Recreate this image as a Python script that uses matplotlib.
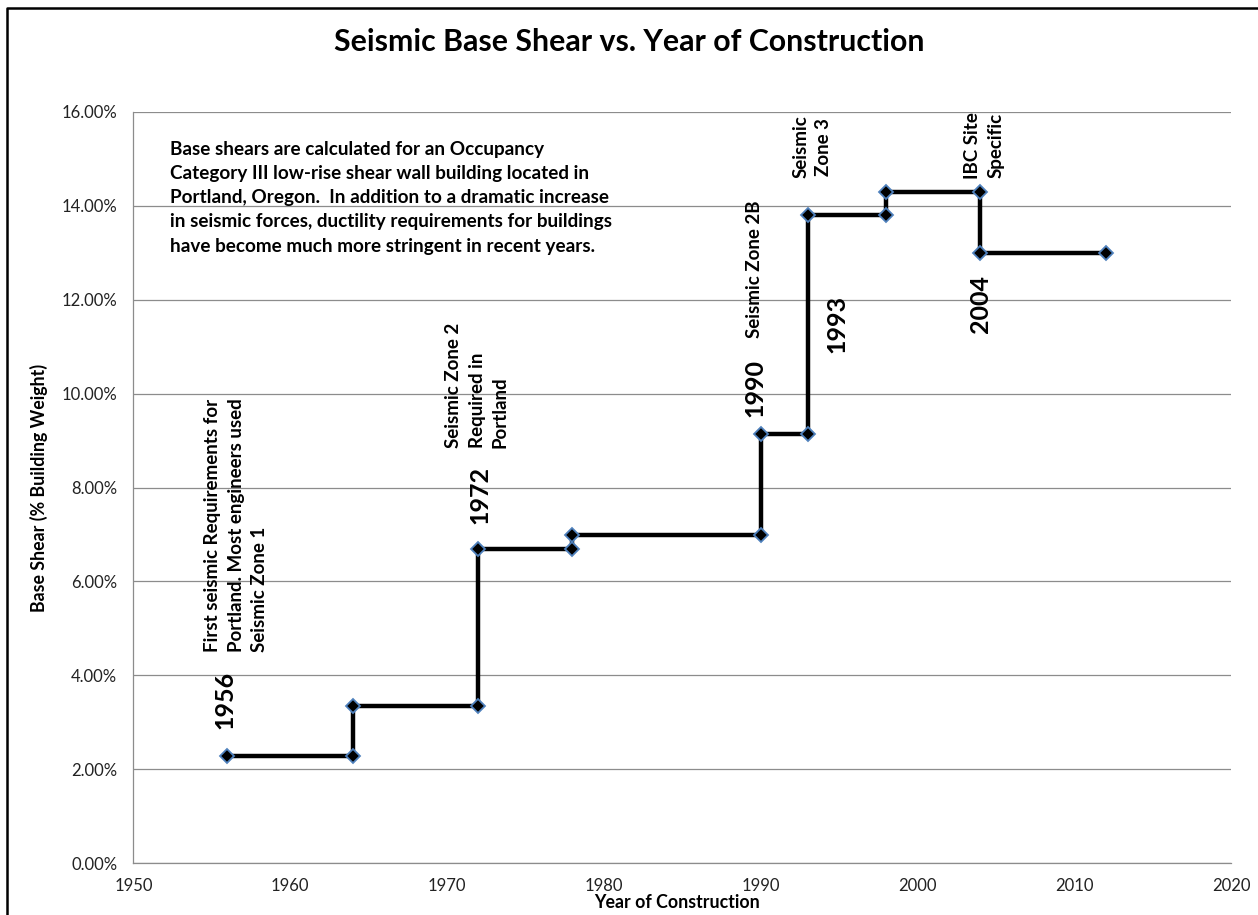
import numpy as np
import matplotlib.pyplot as plt
from matplotlib.lines import Line2D
from matplotlib.ticker import FuncFormatter

plt.rcParams['font.family'] = ['Lato', 'DejaVu Sans']

# step curve of code base shear (% of building weight)
years = [1956, 1964, 1964, 1972, 1972, 1978, 1978, 1990, 1990, 1993, 1993, 1998, 1998, 2004, 2004, 2012]
base_shear = [2.29, 2.29, 3.35, 3.35, 6.69, 6.69, 6.98, 6.98, 9.15, 9.15, 13.80, 13.80, 14.30, 14.30, 13.00, 13.00]

# code-change years and the point each one is labelled at (index into the arrays above)
code_years = ['1956', '1972', '1990', '1993', '2004']
code_idx = [0, 4, 8, 9, 14]
code_offsets = [(-2, 19), (1, 18), (-4, 12), (21, 79), (0, -16)]
code_va = ['bottom', 'bottom', 'bottom', 'center', 'top']

notes = ["First seismic Requirements for\nPortland. Most engineers used\nSeismic Zone 1",
         "Seismic Zone 2\nRequired in\nPortland",
         "Seismic Zone 2B",
         "Seismic\nZone 3",
         "IBC Site\nSpecific"]
note_pos = [(1956.55, 4.50), (1971.92, 8.84), (1989.64, 11.18), (1993.3, 15.26), (2004.25, 15.28)]
note_va = ['bottom', 'bottom', 'bottom', 'center', 'center']
note_align = ['left', 'left', 'left', 'center', 'center']

summary = ("Base shears are calculated for an Occupancy\n"
           "Category III low-rise shear wall building located in\n"
           "Portland, Oregon.  In addition to a dramatic increase\n"
           "in seismic forces, ductility requirements for buildings\n"
           "have become much more stringent in recent years.")

fig = plt.figure(figsize=(12.58, 9.15), dpi=100)
ax = fig.add_axes([0.106, 0.0568, 0.8725, 0.8208])

ax.plot(years, base_shear, color='black', lw=3.2, marker='D', ms=6.8,
        mfc='black', mec='#4F81BD', mew=1.3, zorder=3)

ax.set_xlim(1950, 2020)
ax.set_ylim(0, 16)
ax.set_xticks(np.arange(1950, 2021, 10))
ax.set_yticks(np.arange(0, 16.1, 2))
ax.yaxis.set_major_formatter(FuncFormatter(lambda v, p: f'{v:.2f}%'))
ax.grid(axis='y', color='#8c8c8c', lw=0.9)
ax.set_axisbelow(True)
for s in ['top', 'right']:
    ax.spines[s].set_visible(False)
for s in ['left', 'bottom']:
    ax.spines[s].set_color('#8c8c8c')
    ax.spines[s].set_linewidth(0.9)
ax.tick_params(length=0, labelsize=12, colors='#222222')
ax.tick_params(axis='y', pad=11.5)
ax.tick_params(axis='x', pad=10.5)

ax.set_xlabel('Year of Construction', fontsize=12.8, fontweight='bold')
ax.set_ylabel('Base Shear (% Building Weight)', fontsize=12.8, fontweight='bold')
ax.xaxis.set_label_coords(0.495, -0.041)
ax.yaxis.set_label_coords(-0.0777, 0.5)

fig.text(0.5, 0.954, 'Seismic Base Shear vs. Year of Construction',
         ha='center', va='center', fontsize=21.8, fontweight='bold')

# year labels next to each code change
for lab, i, off, va in zip(code_years, code_idx, code_offsets, code_va):
    ax.annotate(lab, xy=(years[i], base_shear[i]), xytext=off, textcoords='offset points',
                rotation=90, ha='center', va=va, fontsize=18, fontweight='bold')

for txt, (x, y), va, al in zip(notes, note_pos, note_va, note_align):
    ax.text(x, y, txt, rotation=90, ha='center', va=va, multialignment=al,
            fontsize=13.5, fontweight='bold', linespacing=1.45)

ax.text(1952.35, 15.39, summary, ha='left', va='top', fontsize=13.6,
        fontweight='bold', linespacing=1.52)

# outer frame (only top and left edges fall inside the image)
fig.add_artist(Line2D([7 / 1258, 7 / 1258, 1.0], [0.0, 1 - 8 / 915, 1 - 8 / 915],
                      transform=fig.transFigure, color='black', lw=1.8))

fig.savefig('out.png', dpi=100)
